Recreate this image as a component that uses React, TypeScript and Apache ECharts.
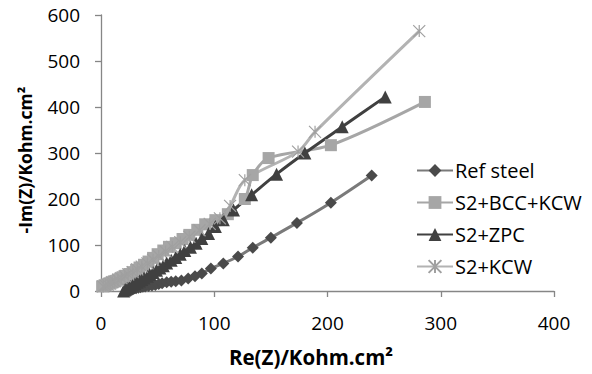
import React, { useEffect, useRef } from "react";
import * as echarts from "echarts";

const seriesNames = ["Ref steel", "S2+BCC+KCW", "S2+ZPC", "S2+KCW"];

const refSteel: [number, number][] = [
  [23, 0], [24, 1], [25, 2], [26, 3], [28, 4], [29, 5], [31, 6], [33, 7], [35, 8], [37, 9],
  [39, 10], [42, 11], [45, 12], [48, 13], [51, 15], [54, 17], [58, 19], [62, 20], [66, 21],
  [71, 23], [77, 27], [83, 32], [89, 38], [97, 49], [108, 60], [121, 75], [134, 94],
  [150, 116], [173, 148], [203, 192], [239, 251],
];

const s2BccKcw: [number, number][] = [
  [1, 10], [3, 12], [5, 14], [7, 16], [9, 18], [11, 20], [13, 22], [15, 25], [17, 27],
  [19, 30], [22, 33], [25, 37], [28, 41], [31, 46], [34, 51], [38, 57], [42, 64], [46, 72],
  [50, 80], [55, 88], [60, 96], [66, 104], [72, 113], [78, 122], [85, 133], [92, 145],
  [101, 154], [112, 167], [127, 200], [134, 252], [148, 289], [203, 317], [286, 411],
];

const s2Zpc: [number, number][] = [
  [20, 0], [21, 2], [22, 4], [23, 6], [25, 8], [26, 10], [28, 13], [30, 16], [32, 19],
  [34, 22], [36, 25], [38, 28], [41, 32], [43, 36], [46, 40], [49, 45], [52, 50], [55, 55],
  [58, 61], [62, 67], [66, 73], [70, 80], [74, 88], [79, 95], [84, 104], [89, 114],
  [95, 125], [101, 140], [108, 155], [117, 176], [133, 209], [155, 254], [180, 300],
  [213, 357], [251, 422],
];

const s2Kcw: [number, number][] = [
  [2, 10], [4, 12], [6, 14], [8, 16], [10, 19], [12, 21], [15, 24], [18, 28], [21, 32],
  [24, 36], [28, 41], [32, 47], [36, 53], [41, 60], [46, 68], [51, 76], [57, 86], [63, 96],
  [70, 106], [78, 118], [87, 132], [96, 146], [105, 158], [114, 185], [127, 241],
  [174, 303], [189, 346], [281, 565],
];

const xTitle = "Re(Z)/Kohm.cm²";
const yTitle = "-Im(Z)/Kohm.cm²";

const FONT = "Open Sans";
const ASTERISK = "path://M0,0L10,10M10,0L0,10M5,0L5,10";

export default function App() {
  const ref = useRef<HTMLDivElement>(null);
  useEffect(() => {
    if (!ref.current) return;
    const chart = echarts.init(ref.current, undefined, { renderer: "svg" });
    const axisCommon = {
      axisLine: { show: true, lineStyle: { color: "#868686", width: 1.3 } },
      axisTick: { show: true, inside: false, length: 6, lineStyle: { color: "#868686", width: 1.3 } },
      splitLine: { show: false },
      axisLabel: { color: "#000", fontSize: 19, fontFamily: FONT },
    };
    chart.setOption({
      animation: false,
      grid: { left: 101, right: 38, top: 15, bottom: 83, containLabel: false },
      xAxis: {
        type: "value",
        min: 0,
        max: 400,
        interval: 100,
        ...axisCommon,
        axisLabel: { ...axisCommon.axisLabel, margin: 22 },
      },
      yAxis: {
        type: "value",
        min: 0,
        max: 600,
        interval: 100,
        ...axisCommon,
        axisLabel: { ...axisCommon.axisLabel, margin: 21 },
      },
      legend: {
        orient: "vertical",
        left: 411,
        top: 155,
        itemWidth: 36,
        itemHeight: 16,
        itemGap: 11,
        textStyle: { color: "#000", fontSize: 20, fontFamily: FONT, lineHeight: 21, padding: [0, 0, 0, -3] },
        data: seriesNames,
      },
      graphic: [
        {
          type: "text",
          x: 311,
          y: 357,
          style: {
            text: xTitle,
            fontSize: 20.5,
            fontWeight: "bold",
            fontFamily: FONT,
            fill: "#000",
            align: "center",
            verticalAlign: "middle",
          },
        },
        {
          type: "text",
          x: 25,
          y: 160,
          rotation: Math.PI / 2,
          style: {
            text: yTitle,
            fontSize: 17.5,
            fontWeight: "bold",
            fontFamily: FONT,
            fill: "#000",
            align: "center",
            verticalAlign: "middle",
          },
        },
      ],
      series: [
        {
          name: seriesNames[0],
          type: "line",
          data: refSteel,
          smooth: 0.3,
          symbol: "diamond",
          symbolSize: 12,
          lineStyle: { color: "#7a7a7a", width: 3 },
          itemStyle: { color: "#4a4a4a" },
        },
        {
          name: seriesNames[1],
          type: "line",
          data: s2BccKcw,
          smooth: 0.3,
          symbol: "rect",
          symbolSize: 12,
          lineStyle: { color: "#a6a6a6", width: 3 },
          itemStyle: { color: "#a6a6a6" },
        },
        {
          name: seriesNames[2],
          type: "line",
          data: s2Zpc,
          smooth: 0.3,
          symbol: "triangle",
          symbolSize: 13,
          lineStyle: { color: "#404040", width: 3 },
          itemStyle: { color: "#404040" },
        },
        {
          name: seriesNames[3],
          type: "line",
          data: s2Kcw,
          smooth: 0.3,
          symbol: ASTERISK,
          symbolSize: 12,
          lineStyle: { color: "#b3b3b3", width: 3 },
          itemStyle: { color: "none", borderColor: "#a0a0a0", borderWidth: 1.2 },
        },
      ],
    });
    return () => chart.dispose();
  }, []);
  return (
    <div
      ref={ref}
      style={{ position: "absolute", left: 0, top: 0, width: 592, height: 374, background: "#fff" }}
    />
  );
}
